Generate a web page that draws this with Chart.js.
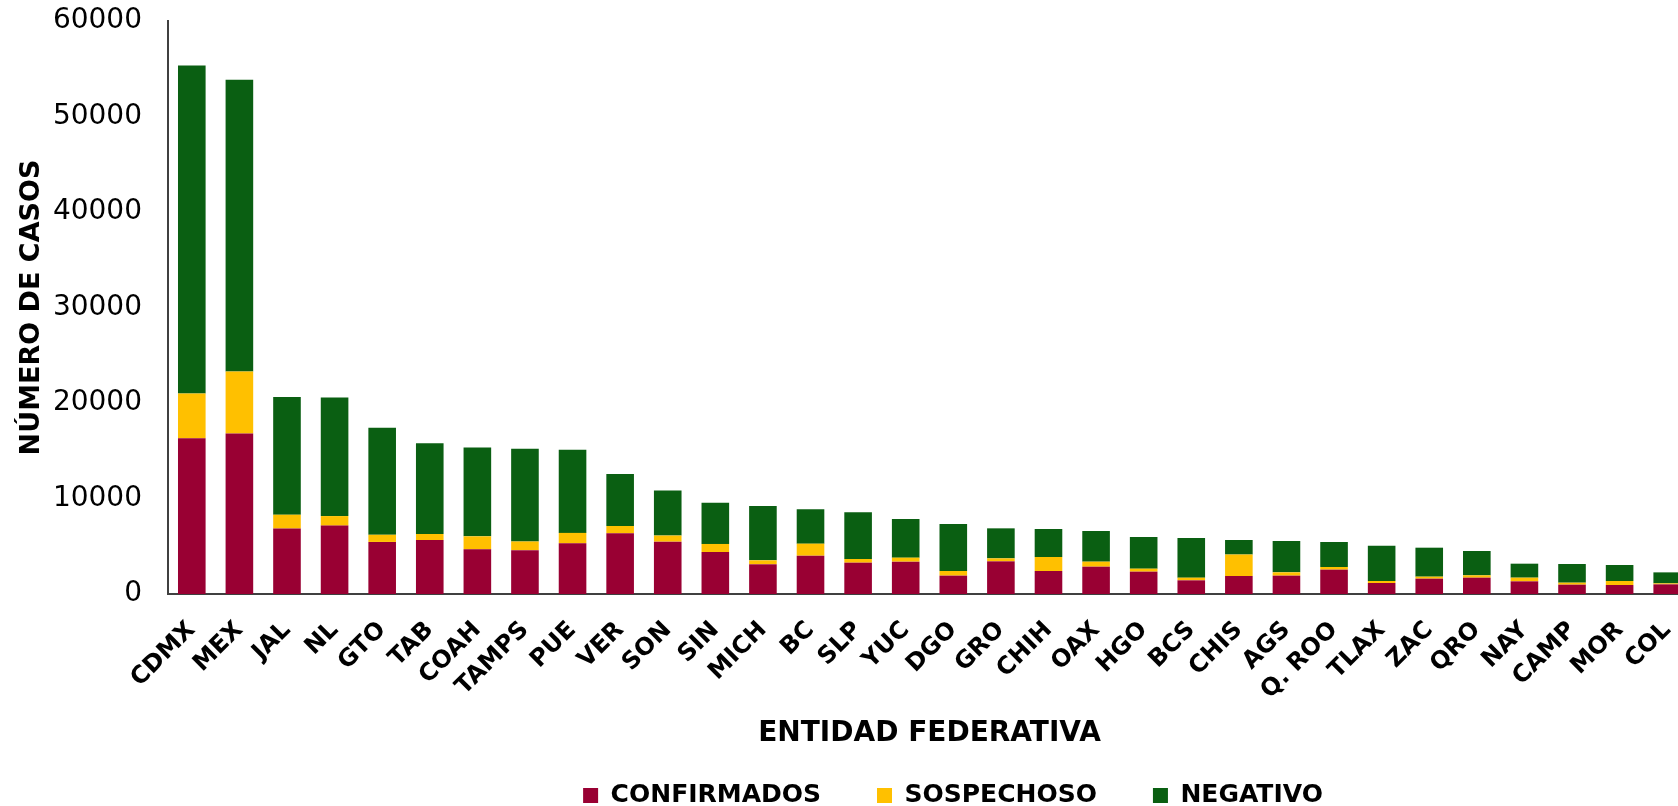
<!DOCTYPE html>
<html lang="es">
<head>
<meta charset="utf-8">
<title>Casos por entidad federativa</title>
<script src="https://cdn.jsdelivr.net/npm/chart.js@4.4.0/dist/chart.umd.min.js"></script>
<style>
    html, body { margin: 0; padding: 0; background: #fff; overflow: hidden; }
    #wrap { position: relative; width: 1692px; height: 806px; }
</style>
</head>
<body>
<div id="wrap"><canvas id="casosChart"></canvas></div>
<script>
// ============ DATA ============
const estados = ['CDMX', 'MEX', 'JAL', 'NL', 'GTO', 'TAB', 'COAH', 'TAMPS', 'PUE', 'VER', 'SON', 'SIN',
    'MICH', 'BC', 'SLP', 'YUC', 'DGO', 'GRO', 'CHIH', 'OAX', 'HGO', 'BCS', 'CHIS', 'AGS',
    'Q. ROO', 'TLAX', 'ZAC', 'QRO', 'NAY', 'CAMP', 'MOR', 'COL'];

const confirmados = [16300, 16800, 6860, 7160, 5450, 5650, 4680, 4590, 5310, 6360, 5480, 4400,
    3110, 4010, 3280, 3385, 1920, 3420, 2410, 2860, 2340, 1430, 1885, 1920,
    2550, 1150, 1605, 1710, 1325, 975, 940, 1010];

const sospechosos = [4700, 6500, 1440, 1000, 750, 630, 1360, 910, 1090, 760, 640, 840,
    415, 1260, 385, 420, 490, 315, 1465, 525, 315, 280, 2250, 350,
    280, 210, 210, 245, 385, 210, 420, 105];

const negativos = [34350, 30550, 12340, 12420, 11220, 9500, 9300, 9710, 8700, 5450, 4730, 4310,
    5690, 3595, 4885, 4050, 4920, 3140, 2930, 3210, 3315, 4150, 1520, 3280,
    2615, 3700, 3035, 2550, 1465, 1955, 1675, 1150];

const yTicks = [0, 10000, 20000, 30000, 40000, 50000, 60000];

// ============ STYLE ============
const FONT = "'DejaVu Sans', 'Liberation Sans', sans-serif";
const COLOR_CONF = '#990033';
const COLOR_SOSP = '#FFC000';
const COLOR_NEG = '#0A5F12';
const AXIS_COLOR = '#404040';

// legend sits lower and a bit to the right than Chart.js puts it
const legendNudge = {
    id: 'legendNudge',
    afterLayout(chart) {
        const lg = chart.legend;
        if (!lg) return;
        const dx = 953 - (lg.left + lg.right) / 2;
        lg.left += dx;
        lg.right += dx;
        lg.top = 727;
        lg.bottom = 806;
    }
};

// ============ CHART ============
const ctx = document.getElementById('casosChart').getContext('2d');

new Chart(ctx, {
    type: 'bar',
    data: {
        labels: estados,
        datasets: [
            { label: 'CONFIRMADOS', data: confirmados, backgroundColor: COLOR_CONF },
            { label: 'SOSPECHOSO', data: sospechosos, backgroundColor: COLOR_SOSP },
            { label: 'NEGATIVO', data: negativos, backgroundColor: COLOR_NEG }
        ]
    },
    options: {
        responsive: true,
        maintainAspectRatio: false,
        animation: false,
        layout: { padding: { top: 21, left: 0, right: 1, bottom: 0 } },
        datasets: {
            bar: { categoryPercentage: 1, barPercentage: 0.58, borderWidth: 0 }
        },
        plugins: {
            legend: {
                position: 'bottom',
                maxHeight: 1,
                labels: {
                    boxWidth: 15,
                    boxHeight: 15,
                    padding: 56,
                    color: '#000',
                    font: { family: FONT, size: 25, weight: 'bold' }
                }
            },
            tooltip: { enabled: false }
        },
        scales: {
            x: {
                stacked: true,
                grid: { display: false, drawTicks: false },
                border: { display: true, color: AXIS_COLOR, width: 2 },
                ticks: {
                    autoSkip: false,
                    maxRotation: 45,
                    minRotation: 45,
                    padding: 22,
                    color: '#000',
                    font: { family: FONT, size: 24, weight: 'bold' }
                },
                title: {
                    display: true,
                    text: 'ENTIDAD FEDERATIVA',
                    color: '#000',
                    font: { family: FONT, size: 28, weight: 'bold' },
                    padding: { top: 4, bottom: 54 }
                },
                afterFit(scale) {
                    scale.height = 211;
                    scale.paddingLeft = 0;
                    scale.paddingRight = 0;
                }
            },
            y: {
                stacked: true,
                min: 0,
                max: 60000,
                grid: { display: false, drawTicks: false },
                border: { display: true, color: AXIS_COLOR, width: 2 },
                afterBuildTicks(scale) { scale.ticks = yTicks.map(v => ({ value: v })); },
                ticks: {
                    padding: 26,
                    color: '#000',
                    font: { family: FONT, size: 28 },
                    callback: v => String(v)
                },
                title: {
                    display: true,
                    text: 'NÚMERO DE CASOS',
                    color: '#000',
                    font: { family: FONT, size: 27, weight: 'bold' },
                    padding: { top: 16, bottom: 0 }
                },
                afterFit(scale) {
                    scale.width = 168;
                    scale.paddingTop = 0;
                    scale.paddingBottom = 0;
                }
            }
        }
    },
    plugins: [legendNudge]
});
</script>
</body>
</html>
